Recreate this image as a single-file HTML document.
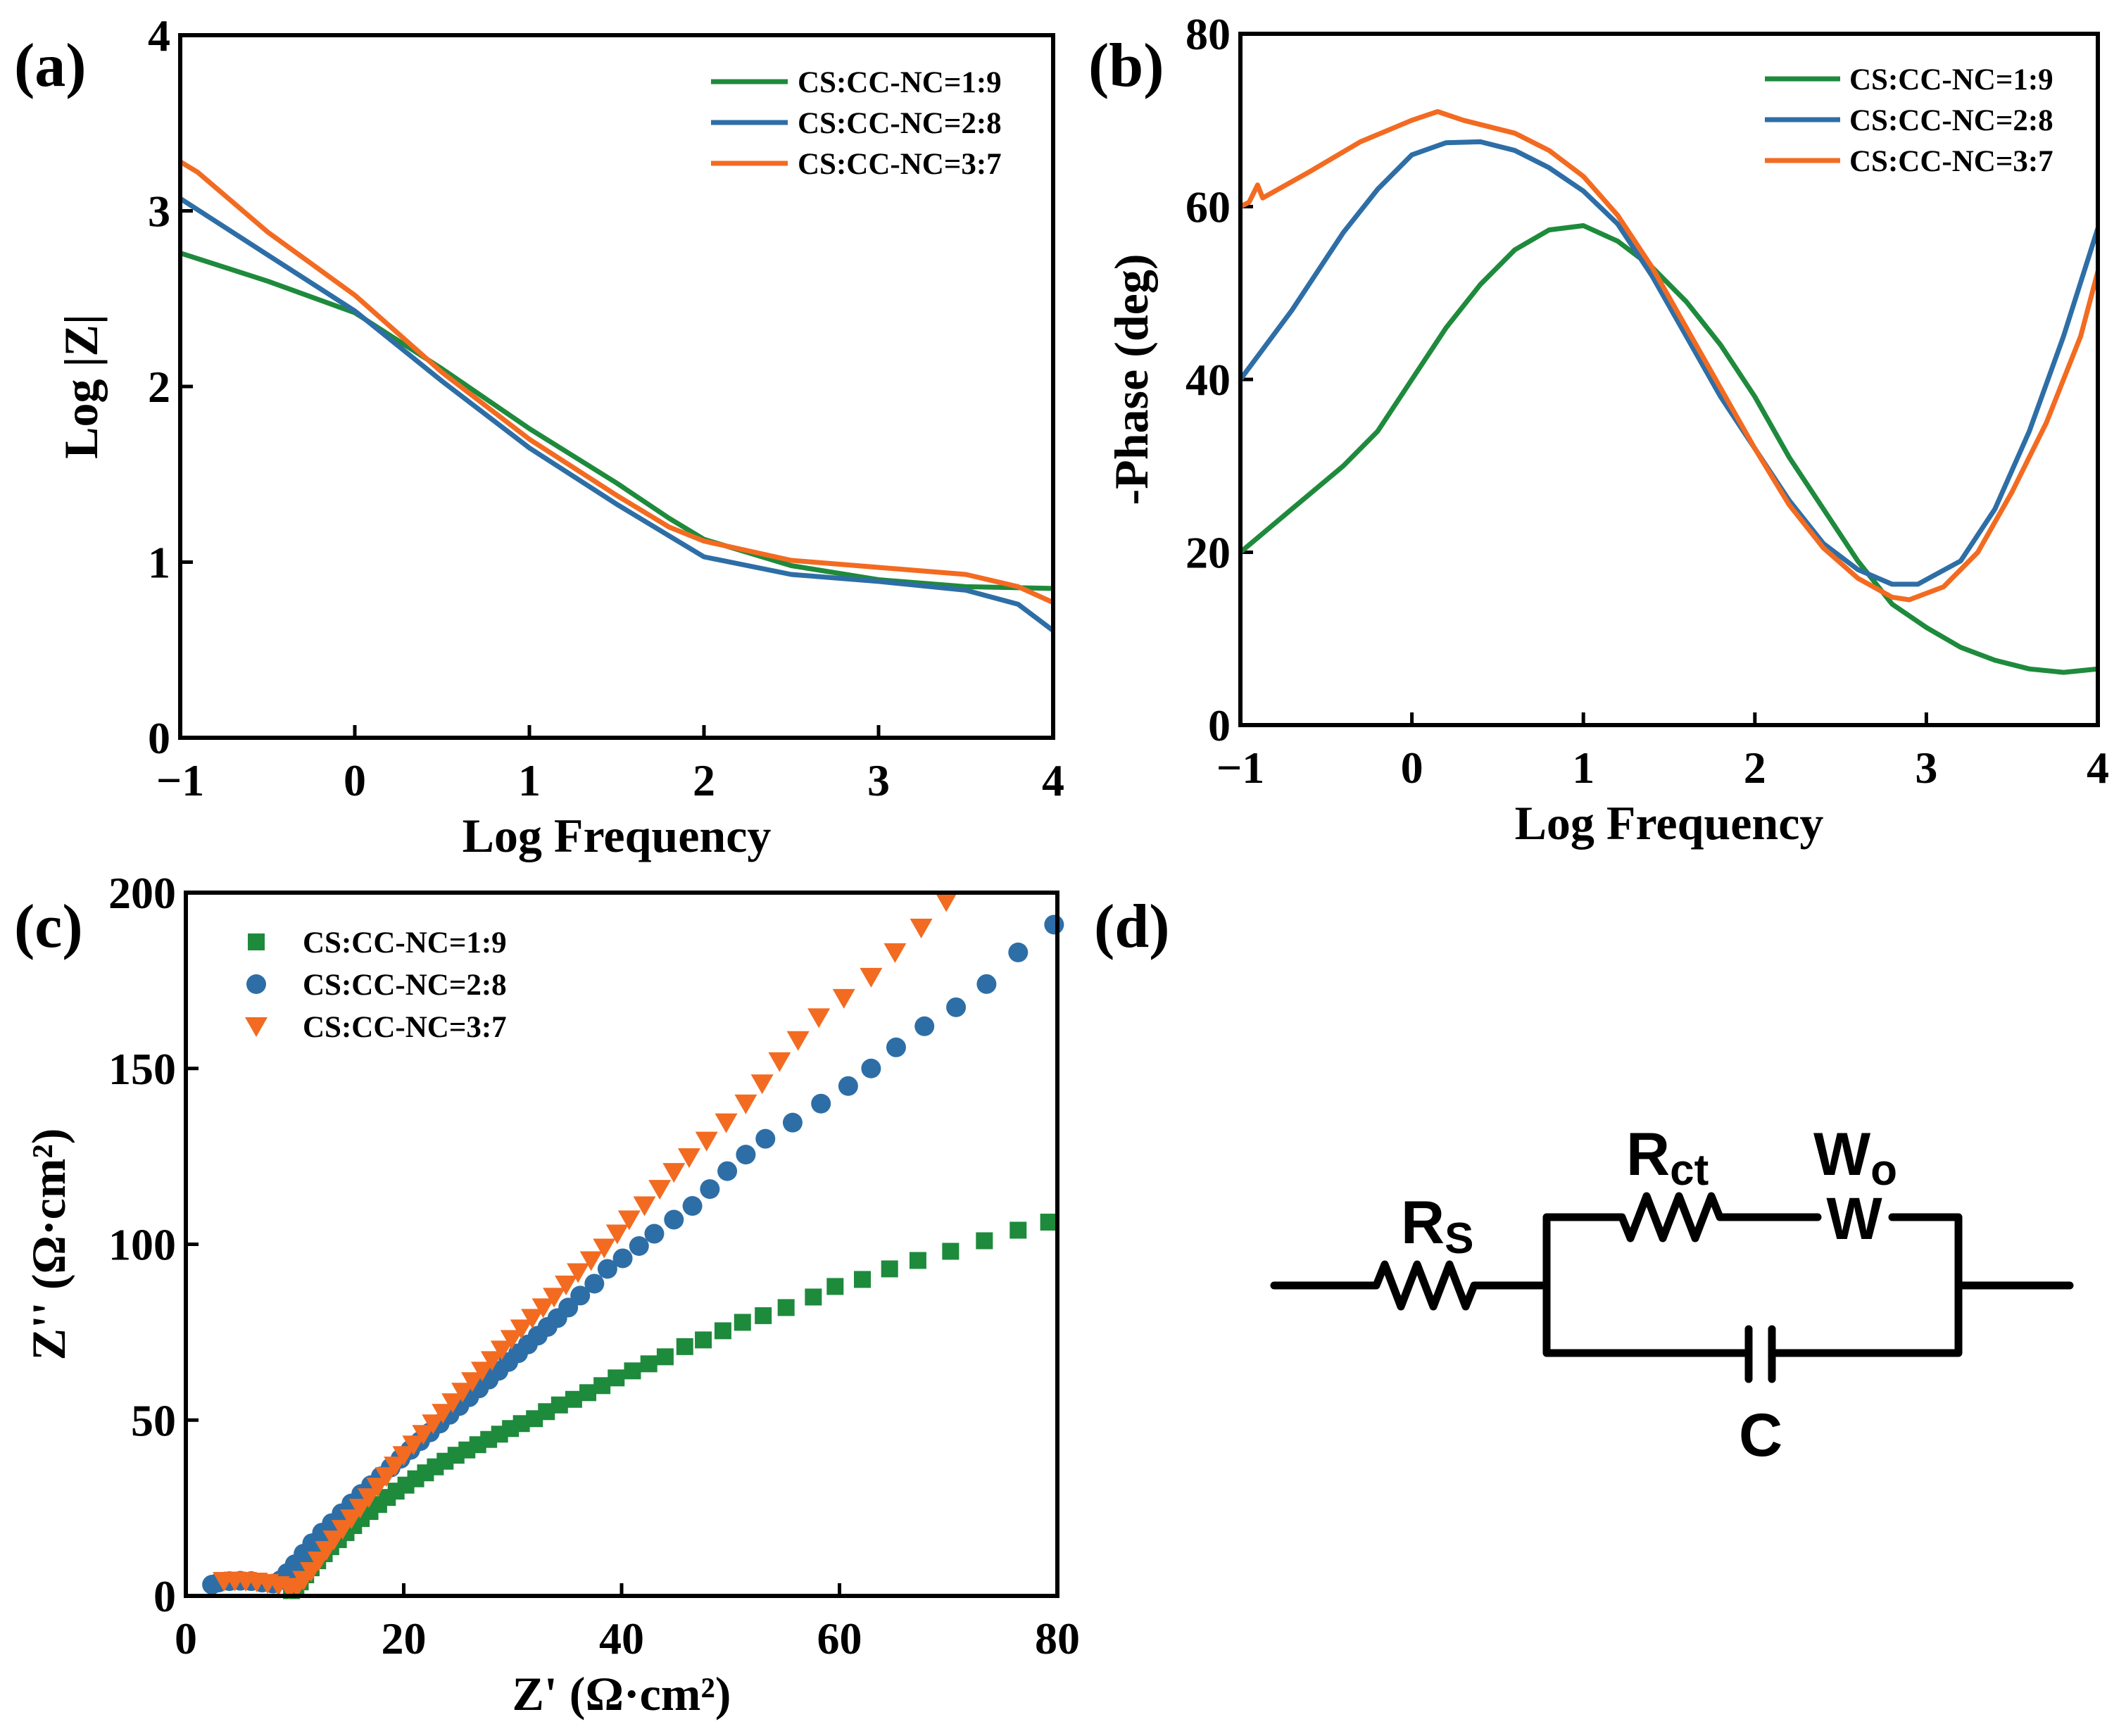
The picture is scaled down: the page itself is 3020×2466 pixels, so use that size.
<!DOCTYPE html>
<html><head><meta charset="utf-8"><style>
html,body{margin:0;padding:0;background:#fff}
svg{display:block}
text{font-family:"Liberation Serif",serif;font-weight:bold;fill:#000}
.cir{font-family:"Liberation Sans","DejaVu Sans",sans-serif;font-weight:bold}
</style></head><body>
<svg id="fig" width="3020" height="2466" viewBox="0 0 3020 2466" xmlns="http://www.w3.org/2000/svg">
<g id="pa"></g>
<g id="pb"></g>
<g id="pc"></g>
<g id="pd">
<text x="1546" y="122" font-size="88">(b)</text>
<text x="20" y="122" font-size="88">(a)</text>
<text x="20" y="1345" font-size="88">(c)</text>
<text x="1554" y="1345" font-size="88">(d)</text>
<g fill="none" stroke="#000" stroke-width="11" stroke-linecap="round" stroke-linejoin="round">
<path d="M1810 1826 H1955 l12 -30 l23 60 l23 -60 l23 60 l23 -60 l23 60 l12 -30 H2197"/>
<path d="M2197 1729 V1922 H2484 M2517 1922 H2782 V1729 H2688 M2582 1729 H2443 l-12 -30 l-23 60 l-23 -60 l-23 60 l-23 -60 l-23 60 l-12 -30 H2197"/>
<path d="M2782 1826 H2940"/>
<path d="M2484 1888 V1959 M2517 1888 V1959"/>
</g>
<text class="cir" x="2634" y="1760" font-size="84" text-anchor="middle">W</text>
<text class="cir" x="1990" y="1766" font-size="86">R<tspan font-size="62" dy="14">S</tspan></text>
<text class="cir" x="2310" y="1669" font-size="86">R<tspan font-size="62" dy="14">ct</tspan></text>
<text class="cir" x="2576" y="1669" font-size="86">W<tspan font-size="62" dy="14">o</tspan></text>
<text class="cir" x="2501" y="2068" font-size="86" text-anchor="middle">C</text>
</g>
</svg>
<script>
const NS="http://www.w3.org/2000/svg";
const seriesNames=["CS:CC-NC=1:9","CS:CC-NC=2:8","CS:CC-NC=3:7"];
const colors=["#1e8a3c","#2e6ea6","#f26b21"];
// Panel a: log|Z|
const aX1=[-1,-0.5,0,0.5,1,1.5,1.8,2,2.5,3,3.5,4];
const aY1=[2.76,2.6,2.42,2.1,1.76,1.45,1.25,1.13,0.98,0.9,0.86,0.85];
const aX2=[-1,-0.5,0,0.5,1,1.5,1.8,2,2.5,3,3.5,3.8,4];
const aY2=[3.07,2.75,2.43,2.03,1.65,1.33,1.15,1.03,0.93,0.89,0.84,0.76,0.61];
const aX3=[-1,-0.9,-0.5,0,0.5,1,1.5,1.8,2,2.5,3,3.5,3.8,4];
const aY3=[3.28,3.22,2.88,2.52,2.08,1.7,1.38,1.2,1.12,1.01,0.97,0.93,0.86,0.77];
const aXTicks=[-1,0,1,2,3,4];
const aYTicks=[0,1,2,3,4];
// Panel b: -phase
const bX1=[-1,-0.7,-0.4,-0.2,0,0.2,0.4,0.6,0.8,1,1.2,1.4,1.6,1.8,2,2.2,2.4,2.6,2.8,3,3.2,3.4,3.6,3.8,4];
const bY1=[20,25,30,34,40,46,51,55,57.3,57.8,56,53,49,44,38,31,25,19,14,11.3,9,7.5,6.5,6.1,6.5];
const bX2=[-1,-0.7,-0.4,-0.2,0,0.2,0.4,0.6,0.8,1,1.2,1.4,1.6,1.8,2,2.2,2.4,2.6,2.8,2.95,3.2,3.4,3.6,3.8,4];
const bY2=[40,48,57,62,66,67.4,67.5,66.5,64.5,61.8,58,52,45,38,32,26,21,18,16.3,16.3,19,25,34,45,57.5];
const bX3=[-1,-0.95,-0.9,-0.87,-0.6,-0.3,0,0.15,0.3,0.6,0.8,1,1.2,1.4,1.6,1.8,2,2.2,2.4,2.6,2.8,2.9,3.1,3.3,3.5,3.7,3.9,4];
const bY3=[60,60.5,62.5,61,64,67.5,70,71,70,68.5,66.5,63.5,59,53,46,39,32,25.5,20.5,17,14.8,14.5,16,20,27,35,45,52.5];
const bXTicks=[-1,0,1,2,3,4];
const bYTicks=[0,20,40,60,80];
// Panel c: Nyquist
const cX1=[79.2,76.4,73.3,70.2,67.2,64.6,62.1,59.6,57.6,55.1,53,51.1,49.3,47.5,45.8,44,42.5,41,39.5,38.2,36.9,35.6,34.3,33.1,32,30.8,29.8,28.8,27.8,26.8,25.8,24.8,23.8,22.9,22,21.1,20.2,19.3,18.5,17.7,16.9,16.1,15.4,14.7,14,13.3,12.7,12.1,11.5,11,10.5,10.1,9.7];
const cY1=[106.3,104,101,98,95.4,93,90,88,85,82,79.7,77.8,75.4,72.8,70.9,68,66,64,62,59.8,57.8,55.9,54.3,52.4,50.4,49,47.6,46,44.5,43,41.5,40,38.3,36.7,35,33.3,31.5,29.8,28,26,24,22,20,18,16,14,12,10,8,6,4,2.5,1.5];
const cX2=[79.7,76.4,73.5,70.7,67.8,65.2,62.9,60.8,58.3,55.7,53.2,51.4,49.7,48.1,46.5,44.8,43,41.6,40.1,38.7,37.5,36.2,35.1,34.1,33.2,32.3,31.4,30.5,29.6,28.7,27.8,26.9,26,25.1,24.2,23.3,22.4,21.5,20.6,19.7,18.8,17.9,17,16.1,15.2,14.3,13.4,12.5,11.6,10.8,10,9.3,8.7,8,7,6,5,4,3,2.4];
const cY2=[190.9,183,174,167.4,162,156,150,145,140,134.6,130,125.5,120.8,115.7,110.9,107,103,99.5,96,93,88.8,85.4,82,79,76.5,74,71.5,69,66.5,64,61.5,59,56.5,54,51.5,49,46.5,44,41.5,39,36.5,34,31.5,29,26.3,23.5,20.7,18,15,12,9,6.5,4.5,3.5,3.8,4.2,4.3,4.2,3.8,3.2];
const cX3=[69.8,67.5,65.1,62.9,60.4,58.1,56.2,54.5,52.9,51.4,49.6,47.8,46.2,44.8,43.5,42.1,40.7,39.6,38.4,37.2,36,34.9,33.8,32.8,31.8,30.8,29.9,29,28.1,27.2,26.3,25.4,24.5,23.6,22.7,21.8,20.9,20,19.2,18.4,17.6,16.8,16,15.2,14.4,13.6,12.9,12.2,11.5,10.8,10.2,9.5,8.5,7.5,6.5,5.5,4.5,3.5];
const cY3=[197.5,190,183,176,170,164.5,158,152,145.7,140,134.6,129.4,124.7,120.5,115.7,111,107,103,99,95.4,92,88.5,85,82,79,76,73,70,67,64,61,58,55,52,49,46,43,40,37,34,31,28,25,22,19,16,13,10,7,4.5,2.5,2,3,3.6,4,4.2,4.3,4.2];
const cXTicks=[0,20,40,60,80];
const cYTicks=[0,50,100,150,200];

function el(tag,attrs,parent,txt){const e=document.createElementNS(NS,tag);for(const k in attrs)e.setAttribute(k,attrs[k]);if(txt!==undefined)e.textContent=txt;parent.appendChild(e);return e;}
function axes(g,box,xd,yd,xt,yt,xlab,ylab,prefix){
  const sx=v=>box.x0+(v-xd[0])/(xd[1]-xd[0])*(box.x1-box.x0);
  const sy=v=>box.y1-(v-yd[0])/(yd[1]-yd[0])*(box.y1-box.y0);
  xt.forEach(t=>{
    const tk=el('line',{x1:sx(t),x2:sx(t),y1:box.y1,y2:box.y1-18,stroke:'#000','stroke-width':5},g);
    
    const lb=el('text',{x:sx(t),y:box.y1+82,'font-size':64,'text-anchor':'middle'},g,t<0?'\u2212'+(-t):String(t));
    
  });
  yt.forEach(t=>{
    const tk=el('line',{x1:box.x0,x2:box.x0+18,y1:sy(t),y2:sy(t),stroke:'#000','stroke-width':5},g);
    
    const lb=el('text',{x:box.x0-14,y:sy(t)+22,'font-size':64,'text-anchor':'end'},g,String(t));
    
  });
  const xl=el('text',{x:(box.x0+box.x1)/2,y:box.y1+162,'font-size':68,'text-anchor':'middle'},g,xlab);
  
  const yx=box.yx,yy=(box.y0+box.y1)/2;
  const yl=el('text',{x:yx,y:yy,'font-size':68,'text-anchor':'middle',transform:`rotate(-90 ${yx} ${yy})`},g,ylab);
  
  return {sx,sy};
}
function frame(g,box,prefix){
  const f=el('rect',{x:box.x0,y:box.y0,width:box.x1-box.x0,height:box.y1-box.y0,fill:'none',stroke:'#000','stroke-width':6},g);
  
}
function lines(g,s,xs,ys,prefix,clipId){
  xs.forEach((X,i)=>{
    const d=X.map((v,j)=>(j?'L':'M')+s.sx(v).toFixed(1)+' '+s.sy(ys[i][j]).toFixed(1)).join(' ');
    const p=el('path',{d:d,fill:'none',stroke:colors[i],'stroke-width':7,'stroke-linejoin':'round','clip-path':`url(#${clipId})`},g);
    
  });
}
function lineLegend(g,lx,ly,tx,prefix){
  seriesNames.forEach((n,i)=>{
    const l=el('line',{x1:lx[0],x2:lx[1],y1:ly+i*58,y2:ly+i*58,stroke:colors[i],'stroke-width':7},g);
    
    const t=el('text',{x:tx,y:ly+i*58+15,'font-size':43},g,n);
    
  });
}
function clip(id,box){
  const svg=document.getElementById('fig');
  let defs=svg.querySelector('defs');if(!defs){defs=el('defs',{},svg);svg.insertBefore(defs,svg.firstChild);}
  const c=el('clipPath',{id:id},defs);el('rect',{x:box.x0,y:box.y0-10,width:box.x1-box.x0,height:box.y1-box.y0+10},c);
}
(function(){
  const g=document.getElementById('pa');
  const box={x0:256,x1:1496,y0:50,y1:1048,yx:138};
  clip('ca',box);
  const s=axes(g,box,[-1,4],[0,4],aXTicks,aYTicks,'Log  Frequency','Log  |Z|','a');
  lines(g,s,[aX1,aX2,aX3],[aY1,aY2,aY3],'a','ca');
  frame(g,box,'a');
  lineLegend(g,[1010,1119],116,1133,'a');
})();
(function(){
  const g=document.getElementById('pb');
  const box={x0:1762,x1:2980,y0:48,y1:1030,yx:1630};
  clip('cb',box);
  const s=axes(g,box,[-1,4],[0,80],bXTicks,bYTicks,'Log  Frequency','-Phase (deg)','b');
  lines(g,s,[bX1,bX2,bX3],[bY1,bY2,bY3],'b','cb');
  frame(g,box,'b');
  lineLegend(g,[2507,2614],112,2627,'b');
})();
(function(){
  const g=document.getElementById('pc');
  const box={x0:264,x1:1502,y0:1268,y1:2267,yx:92};
  const s=axes(g,box,[0,80],[0,200],cXTicks,cYTicks,"Z' (\u03A9\u00B7cm\u00B2)","Z'' (\u03A9\u00B7cm\u00B2)",'c');
  const mk=(i,x,y,gg)=>{
    let m;
    if(i===0)m=el('rect',{x:x-12,y:y-12,width:24,height:24,fill:colors[0]},gg);
    else if(i===1)m=el('circle',{cx:x,cy:y,r:14,fill:colors[1]},gg);
    else m=el('path',{d:`M${x-16} ${y-13} L${x+16} ${y-13} L${x} ${y+15} Z`,fill:colors[2]},gg);
    return m;
  };
  const XS=[cX1,cX2,cX3],YS=[cY1,cY2,cY3];
  XS.forEach((X,i)=>{
    const gg=el('g',{},g);
    
    X.forEach((v,j)=>{
      const m=mk(i,s.sx(v),s.sy(YS[i][j]),gg);
      
      
    });
  });
  frame(g,box,'c');
  seriesNames.forEach((n,i)=>{
    const m=mk(i,364,1338+i*60,g);
    
    
    const t=el('text',{x:430,y:1353+i*60,'font-size':43},g,n);
    
    
  });
})();
</script>
</body></html>
